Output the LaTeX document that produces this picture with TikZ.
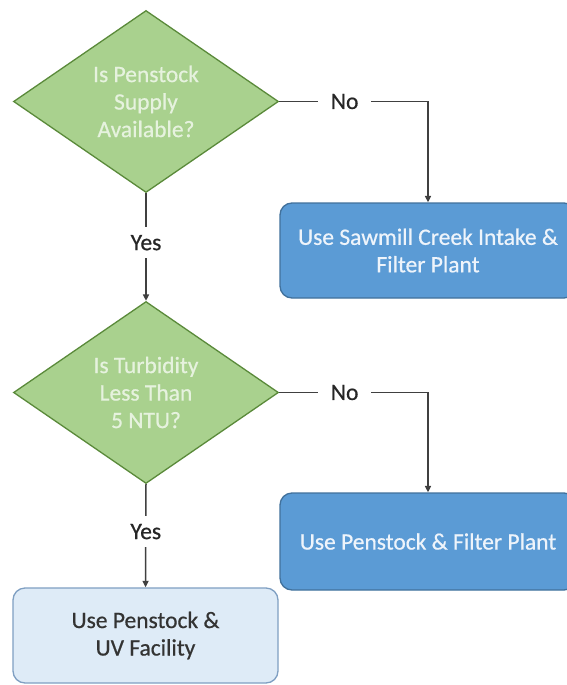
\documentclass[tikz,border=0pt]{standalone}
\usepackage{fontspec}
\setmainfont{Carlito}[FakeBold=0.6]
\usetikzlibrary{shapes.geometric,arrows.meta}
\definecolor{dfill}{HTML}{A9D18E}
\definecolor{ddraw}{HTML}{5A8A3A}
\definecolor{dtext}{HTML}{E6F2DE}
\definecolor{bfill}{HTML}{5B9BD5}
\definecolor{bdraw}{HTML}{41719C}
\definecolor{btext}{HTML}{EEF4FB}
\definecolor{lfill}{HTML}{DEEBF7}
\definecolor{ldraw}{HTML}{7F9FC2}
\definecolor{ltext}{HTML}{333333}
\definecolor{lnc}{HTML}{404040}
\tikzset{
  txt/.style={font=\fontsize{23.5}{27.5}\selectfont, align=center},
  decision/.style={txt, shape=diamond, aspect=1.45, minimum width=265pt, minimum height=182pt, inner sep=0pt, fill=dfill, draw=ddraw, line width=1.3pt, text=dtext},
  darkbox/.style={txt, rectangle, rounded corners=12pt, fill=bfill, draw=bdraw, line width=1.3pt, text=btext},
  lightbox/.style={txt, rectangle, rounded corners=12pt, fill=lfill, draw=ldraw, line width=1.3pt, text=ltext},
  conn/.style={draw=lnc, line width=1.5pt, -{Triangle[length=6.5pt,width=6pt]}},
  lbl/.style={txt, fill=white, text=black!85, inner xsep=13pt, inner ysep=9pt}
}
\begin{document}
\begin{tikzpicture}[x=1pt,y=-1pt]
\useasboundingbox (0,0) rectangle (567,685);
\clip (0,0) rectangle (567,685);
\fill[white] (0,0) rectangle (567,685);
\node[decision] (d1) at (146,101.5) {Is Penstock\\Supply\\Available?};
\node[decision] (d2) at (146,392.5) {Is Turbidity\\Less Than\\5 NTU?};
\node[darkbox, minimum width=296pt, minimum height=95pt] (b1) at (428,250.5) {Use Sawmill Creek Intake \&\\Filter Plant};
\node[darkbox, minimum width=296pt, minimum height=97pt] (b2) at (428,541.5) {Use Penstock \& Filter Plant};
\node[lightbox, minimum width=265pt, minimum height=95pt] (b3) at (145.5,635.5) {Use Penstock \&\\UV Facility};
\coordinate (c1) at (428,101.5);
\coordinate (c2) at (428,392.5);
\draw[conn] (d1.east) -- node[lbl, pos=0.44] (n1) {No} (c1) -- (b1.north);
\draw[conn] (d2.east) -- node[lbl, pos=0.44] (n2) {No} (c2) -- (b2.north);
\draw[conn] (d1.south) -- node[lbl, pos=0.46, inner ysep=8pt] (y1) {Yes} (d2.north);
\draw[conn] (d2.south) -- node[lbl, pos=0.46, inner ysep=8pt] (y2) {Yes} (b3.north);
\end{tikzpicture}
\end{document}
